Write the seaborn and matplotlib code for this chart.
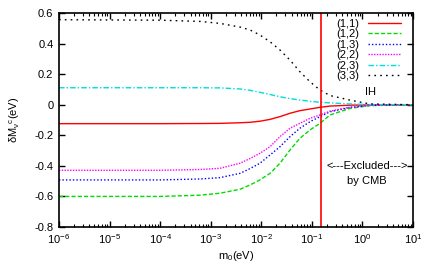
import numpy as np
import pandas as pd
import matplotlib
matplotlib.use("Agg")
import matplotlib.pyplot as plt
import seaborn as sns
from matplotlib.ticker import LogLocator, FixedLocator

sns.set_style("ticks")
plt.rcParams['font.family'] = ['Liberation Sans', 'DejaVu Sans']
plt.rcParams['mathtext.fontset'] = 'custom'
plt.rcParams['mathtext.rm'] = 'Liberation Sans'
plt.rcParams['mathtext.it'] = 'Liberation Sans:italic'
plt.rcParams['mathtext.default'] = 'regular'
for k in ['text.color', 'axes.labelcolor', 'xtick.color', 'ytick.color', 'axes.edgecolor']:
    plt.rcParams[k] = 'black'

# data
m0 = [1e-6, 1e-4, 6.1e-4, 1.53e-3, 3.8e-3, 6.0e-3, 9.4e-3, 1.49e-2, 2.34e-2,
      3.7e-2, 5.8e-2, 9.2e-2, 0.145, 0.229, 0.568, 1.41, 10]
d11 = [-0.124, -0.124, -0.123, -0.122, -0.118, -0.115, -0.108, -0.096, -0.078,
       -0.056, -0.039, -0.028, -0.017, -0.009, -0.003, -0.001, 0.0]
d12 = [-0.600, -0.600, -0.592, -0.579, -0.553, -0.525, -0.492, -0.449, -0.383,
       -0.296, -0.220, -0.165, -0.122, -0.067, -0.024, -0.006, 0.0]
d13 = [-0.492, -0.492, -0.486, -0.477, -0.449, -0.418, -0.383, -0.329, -0.275,
       -0.209, -0.154, -0.111, -0.078, -0.046, -0.018, -0.004, 0.0]
d22 = [-0.429, -0.429, -0.424, -0.416, -0.383, -0.352, -0.318, -0.275, -0.209,
       -0.154, -0.122, -0.089, -0.067, -0.042, -0.016, -0.004, 0.0]
d23 = [0.111, 0.111, 0.111, 0.110, 0.103, 0.094, 0.081, 0.067, 0.052,
       0.040, 0.031, 0.022, 0.016, 0.012, 0.005, 0.001, 0.0]
d33 = [0.556, 0.553, 0.545, 0.532, 0.508, 0.489, 0.456, 0.412, 0.358,
       0.292, 0.216, 0.150, 0.096, 0.060, 0.030, 0.005, 0.0]
labels = ['(1,1)', '(1,2)', '(1,3)', '(2,2)', '(2,3)', '(3,3)']
m0_cmb = 0.15
xticks = [1e-6, 1e-5, 1e-4, 1e-3, 1e-2, 1e-1, 1e0, 1e1]
yticks = [0.6, 0.4, 0.2, 0, -0.2, -0.4, -0.6, -0.8]
ytick_labels = ['0.6', '0.4', '0.2', '0', '-0.2', '-0.4', '-0.6', '-0.8']

series = [d11, d12, d13, d22, d23, d33]
rows = []
for lab, ys in zip(labels, series):
    for x, y in zip(m0, ys):
        rows.append((lab, x, y))
df = pd.DataFrame(rows, columns=['comp', 'm0', 'dm'])

palette = {'(1,1)': '#ff0000', '(1,2)': '#00dd00', '(1,3)': '#0000ff',
           '(2,2)': '#ff00ff', '(2,3)': '#00dddd', '(3,3)': '#000000'}
dashes = {'(1,1)': '', '(1,2)': (3, 1.5), '(1,3)': (1, 1.5), '(2,2)': (1, 1),
          '(2,3)': (4, 1.5, 1, 1.5), '(3,3)': (1.2, 3)}

fig = plt.figure(figsize=(4.36, 2.73), dpi=100)
ax = fig.add_axes([0.1353, 0.1685, 0.8119, 0.7839])
sns.lineplot(data=df, x='m0', y='dm', hue='comp', style='comp', palette=palette,
             dashes=dashes, linewidth=1.0, ax=ax, legend=False, sort=True)
ax.set_xscale('log')
ax.axvline(m0_cmb, color='#ff0000', lw=1.2)
ax.set_xlim(1e-6, 10)
ax.set_ylim(-0.8, 0.6)
ax.xaxis.set_major_locator(FixedLocator(xticks))
ax.xaxis.set_minor_locator(LogLocator(base=10, subs=np.arange(2, 10), numticks=20))
ax.set_yticks(yticks)
ax.set_yticklabels(ytick_labels)
ax.tick_params(which='both', direction='in', top=True, right=True, labelsize=8, pad=4,
               color='black', labelcolor='black')
ax.tick_params(which='major', length=4, width=1)
ax.tick_params(which='minor', length=2, width=0.8)
ax.xaxis.set_minor_formatter(plt.NullFormatter())
for s in ax.spines.values():
    s.set_linewidth(1.2)
    s.set_color('black')
ax.set_xlabel('m$_0$(eV)', fontsize=8, labelpad=2)
ax.set_ylabel(r'$\delta$M$_\nu$$^c$(eV)', fontsize=8, labelpad=9)

handles = ax.lines[:6]
leg = ax.legend(handles, labels, loc='upper right', bbox_to_anchor=(0.985, 1.005),
                frameon=False, markerfirst=False, fontsize=8, handlelength=3.0,
                labelspacing=0.05, handletextpad=0.8, borderpad=0.1)
ax.text(0.88, 0.63, 'IH', transform=ax.transAxes, fontsize=8, ha='center', va='center')
ax.text(0.87, 0.285, '<---Excluded--->', transform=ax.transAxes, fontsize=8, ha='center', va='center')
ax.text(0.87, 0.215, 'by CMB', transform=ax.transAxes, fontsize=8, ha='center', va='center')

fig.savefig('out.png', dpi=100)
